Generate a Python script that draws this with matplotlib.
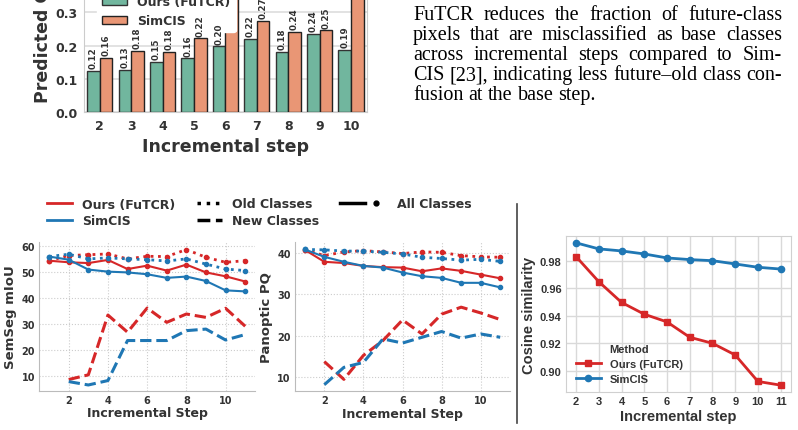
import numpy as np
import matplotlib
matplotlib.use('Agg')
import matplotlib.pyplot as plt
from matplotlib.lines import Line2D

# ---- data ----
bar_steps = ['2', '3', '4', '5', '6', '7', '8', '9', '10']
ours_conf = [0.124, 0.127, 0.151, 0.162, 0.198, 0.221, 0.182, 0.236, 0.188]
simcis_conf = [0.164, 0.184, 0.182, 0.222, 0.40, 0.274, 0.242, 0.246, 0.38]

steps = [1, 2, 3, 4, 5, 6, 7, 8, 9, 10, 11]
new_steps = [2, 3, 4, 5, 6, 7, 8, 9, 10, 11]

miou_ours_all = [54.2, 53.6, 53.3, 54.5, 51.0, 52.3, 50.4, 52.7, 49.7, 48.2, 46.2]
miou_ours_old = [54.2, 56.2, 56.5, 56.8, 54.9, 55.9, 55.8, 58.5, 55.5, 53.6, 54.2]
miou_ours_new = [8.5, 10.3, 33.3, 26.7, 36.0, 30.5, 33.7, 32.4, 35.9, 29.0]
miou_sim_all = [55.8, 54.6, 50.8, 50.0, 49.7, 49.0, 47.6, 48.1, 46.4, 42.8, 42.4]
miou_sim_old = [55.8, 56.7, 54.9, 55.3, 54.9, 54.6, 54.1, 54.9, 52.9, 51.0, 50.4]
miou_sim_new = [7.7, 6.4, 8.1, 23.5, 23.5, 23.5, 27.3, 27.9, 23.7, 25.8]

pq_ours_all = [40.8, 37.9, 37.6, 36.9, 36.6, 36.5, 35.6, 36.3, 35.7, 34.8, 33.9]
pq_ours_old = [40.8, 39.4, 40.3, 40.6, 40.3, 39.9, 40.3, 40.2, 39.4, 39.1, 39.0]
pq_ours_new = [13.7, 9.4, 15.2, 18.8, 23.8, 20.4, 25.2, 26.9, 25.5, 23.9]
pq_sim_all = [40.9, 39.1, 37.9, 36.9, 36.5, 35.3, 34.4, 34.0, 32.8, 32.8, 31.7]
pq_sim_old = [40.9, 40.8, 40.5, 40.5, 40.2, 39.8, 39.0, 38.7, 38.3, 38.5, 38.0]
pq_sim_new = [8.1, 12.3, 13.5, 19.2, 18.2, 19.6, 21.0, 19.4, 20.4, 19.6]

cos_steps = [2, 3, 4, 5, 6, 7, 8, 9, 10, 11]
cos_ours = [0.9832, 0.9649, 0.9498, 0.9412, 0.9356, 0.9244, 0.9200, 0.9115, 0.8922, 0.8895]
cos_sim = [0.9932, 0.9888, 0.9873, 0.9851, 0.9822, 0.9810, 0.9802, 0.9778, 0.9754, 0.9741]

caption = ["FuTCR reduces the fraction of future-class",
           "pixels that are misclassified as base classes",
           "across incremental steps compared to Sim-",
           "CIS [23], indicating less future\u2013old class con-",
           "fusion at the base step."]

RED = '#d62728'
BLUE = '#1f77b4'
TXT = '#333333'

W, H = 798, 431
fig = plt.figure(figsize=(W / 100, H / 100), dpi=100)
plt.rcParams['font.family'] = 'DejaVu Sans'


def px_axes(l, t, r, b):
    return fig.add_axes([l / W, 1 - b / H, (r - l) / W, (b - t) / H])


# ---- bar chart (cropped at the top) ----
ax = px_axes(84, -36.7, 366.7, 113.3)
x = np.arange(len(bar_steps))
w = 0.4
b1 = ax.bar(x - w / 2, ours_conf, w, color='#71b69e', edgecolor='#333333', linewidth=1, zorder=3)
b2 = ax.bar(x + w / 2, simcis_conf, w, color='#e99675', edgecolor='#222222', linewidth=1, zorder=3)
for bars in (b1, b2):
    for r in bars:
        h = r.get_height()
        ax.text(r.get_x() + r.get_width() / 2, h + 0.008, '%.2f' % h, rotation=90, zorder=10,
                ha='center', va='bottom', fontsize=6.3, fontweight='bold', color=TXT)
ax.set_xlim(-0.5, len(bar_steps) - 0.5)
ax.set_ylim(0, 0.45)
ax.set_xticks(x)
ax.set_xticklabels(bar_steps)
ax.set_yticks([0, 0.1, 0.2, 0.3, 0.4])
ax.yaxis.grid(True, color='#dddddd', linewidth=1.2)
ax.set_axisbelow(True)
for s in ax.spines.values():
    s.set_color('#cccccc')
ax.tick_params(length=0, labelsize=9, colors=TXT, pad=4.5)
for lab in ax.get_xticklabels() + ax.get_yticklabels():
    lab.set_fontweight('bold')
ax.set_xlabel('Incremental step', fontsize=12.5, fontweight='bold', color=TXT, labelpad=4)
ax.set_ylabel('Predicted Confusion', fontsize=12.5, fontweight='bold', color=TXT)
ax.yaxis.set_label_coords(-0.113, 0.729)
ax.legend([b1, b2], ['Ours (FuTCR)', 'SimCIS'], loc='upper left', bbox_to_anchor=(0.025, 0.857),
          borderaxespad=0.5, prop={'size': 9, 'weight': 'bold'}, frameon=True,
          facecolor='white', edgecolor='white', framealpha=1, labelcolor=TXT)

# ---- justified caption text ----
rend = fig.canvas.get_renderer()
x0, x1 = 413, 782
fs_cap = 14.5
for i, line in enumerate(caption):
    yy = 1 - (20 + 20 * i) / H
    words = line.split()
    ts = [fig.text(0, yy, wd, fontsize=fs_cap, family='Liberation Serif', va='baseline', color='black')
          for wd in words]
    widths = [t.get_window_extent(rend).width for t in ts]
    if i < len(caption) - 1:
        gap = (x1 - x0 - sum(widths)) / (len(words) - 1)
    else:
        gap = 0.25 * fs_cap * 100 / 72
    xx = x0
    for t, wd in zip(ts, widths):
        t.set_x(xx / W)
        xx += wd + gap


# ---- line panels ----
def line_panel(ax, all_o, old_o, new_o, all_s, old_s, new_s, ylab, yticks, ylim):
    for col, a, o, n in ((RED, all_o, old_o, new_o), (BLUE, all_s, old_s, new_s)):
        ax.plot(steps, a, color=col, lw=1.5, marker='o', ms=3, mec=col)
        ax.plot(steps, o, color=col, lw=2.0, ls=':', marker='o', ms=3, mec=col)
        ax.plot(new_steps, n, color=col, lw=2.2, ls='--')
    ax.set_xlim(0.5, 11.5)
    ax.set_ylim(*ylim)
    ax.set_xticks([2, 4, 6, 8, 10])
    ax.set_yticks(yticks)
    ax.grid(True, ls=':', color='#cccccc', lw=0.8)
    ax.set_axisbelow(True)
    for k in ('top', 'right'):
        ax.spines[k].set_visible(False)
    for k in ('left', 'bottom'):
        ax.spines[k].set_color('#bbbbbb')
    ax.tick_params(length=0, labelsize=7, colors=TXT, pad=3)
    for lab in ax.get_xticklabels() + ax.get_yticklabels():
        lab.set_fontweight('bold')
    ax.set_xlabel('Incremental Step', fontsize=9, fontweight='bold', color=TXT, labelpad=1)
    ax.set_ylabel(ylab, fontsize=9.5, fontweight='bold', color=TXT, labelpad=3)


ax1 = px_axes(39.3, 243, 255, 391.7)
line_panel(ax1, miou_ours_all, miou_ours_old, miou_ours_new, miou_sim_all, miou_sim_old, miou_sim_new,
           'SemSeg mIoU', [10, 20, 30, 40, 50, 60], (4.2, 61.4))
ax2 = px_axes(295, 243, 510, 392.3)
line_panel(ax2, pq_ours_all, pq_ours_old, pq_ours_new, pq_sim_all, pq_sim_old, pq_sim_new,
           'Panoptic PQ', [10, 20, 30, 40], (6.5, 42.7))


class LineDotHandler:
    def legend_artist(self, legend, orig_handle, fontsize, handlebox):
        w0, h0 = handlebox.width, handlebox.height
        handlebox.width = w0 * 1.9
        yc = h0 / 2
        ln = Line2D([0, w0], [yc, yc], color='black', lw=2.5)
        dot = Line2D([w0 * 1.45], [yc], marker='o', ms=3.5, color='black', ls='none')
        handlebox.add_artist(ln)
        handlebox.add_artist(dot)
        return ln


all_handle = object()
handles = [Line2D([], [], color=RED, lw=2), Line2D([], [], color=BLUE, lw=2),
           Line2D([], [], color='black', lw=2.5, ls=':'), Line2D([], [], color='black', lw=2.5, ls='--'),
           all_handle, Line2D([], [], color='none')]
labels = ['Ours (FuTCR)', 'SimCIS', 'Old Classes', 'New Classes', 'All Classes', '']
fig.legend(handles, labels, loc='upper left', bbox_to_anchor=(42 / W, 1 - 193.5 / H), ncol=3,
           frameon=False, borderaxespad=0, prop={'size': 9, 'weight': 'bold'}, labelcolor=TXT,
           handlelength=2.0, handletextpad=0.8, columnspacing=1.7, labelspacing=0.3,
           handler_map={all_handle: LineDotHandler()})

# separator
fig.add_artist(Line2D([517 / W, 517 / W], [1 - 205 / H, 1 - 424 / H], color='#444444', lw=1.2))

# ---- cosine similarity panel ----
ax3 = px_axes(565.8, 236.7, 790.9, 393.3)
ax3.plot(cos_steps, cos_ours, color=RED, lw=2, marker='s', ms=4.5, label='Ours (FuTCR)')
ax3.plot(cos_steps, cos_sim, color=BLUE, lw=2, marker='o', ms=4.5, label='SimCIS')
ax3.set_xlim(1.55, 11.45)
ax3.set_ylim(0.8843, 0.9984)
ax3.set_xticks(cos_steps)
ax3.set_yticks([0.90, 0.92, 0.94, 0.96, 0.98])
ax3.grid(True, color='#d9d9d9', lw=1)
ax3.set_axisbelow(True)
for s in ax3.spines.values():
    s.set_color('#d0d0d0')
ax3.tick_params(length=0, labelsize=8, colors=TXT, pad=3)
for lab in ax3.get_xticklabels() + ax3.get_yticklabels():
    lab.set_fontweight('bold')
    lab.set_family('Liberation Sans')
ax3.set_xlabel('Incremental step', fontsize=10.5, fontweight='bold', family='Liberation Sans',
               color=TXT, labelpad=2)
ax3.set_ylabel('Cosine similarity', fontsize=10.5, fontweight='bold', family='Liberation Sans',
               color=TXT, labelpad=3)
leg = ax3.legend(title='Method', loc='lower left', frameon=False, handlelength=2.25,
                 prop={'size': 8, 'weight': 'bold', 'family': 'Liberation Sans'},
                 labelcolor=TXT, labelspacing=0.45, bbox_to_anchor=(0, -0.01))
leg.get_title().set_fontweight('bold')
leg.get_title().set_family('Liberation Sans')
leg.get_title().set_fontsize(8)
leg.get_title().set_color(TXT)

fig.savefig('out.png', dpi=100)
